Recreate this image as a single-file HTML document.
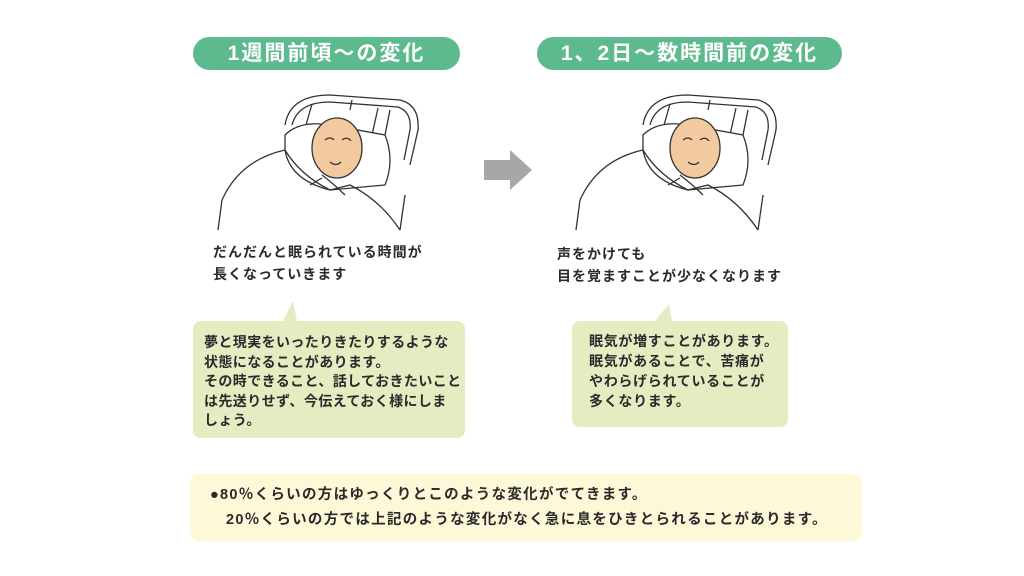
<!DOCTYPE html>
<html><head><meta charset="utf-8"><style>
body{margin:0;width:1024px;height:576px;background:#fff;position:relative;overflow:hidden;font-family:"Liberation Sans","Noto Sans CJK JP",sans-serif;font-weight:bold;color:#2a2a2a}
.pill{position:absolute;top:37px;height:33px;border-radius:17px;background:#5dba8e;color:#fff;font-size:21px;line-height:33px;text-align:center;letter-spacing:2px}
.t{position:absolute;font-size:14px;letter-spacing:1px;line-height:22px;white-space:nowrap}
.b{position:absolute;background:#e4ecc2;border-radius:8px;font-size:14px;letter-spacing:0.4px;line-height:19.5px;white-space:nowrap;box-sizing:border-box}
.bot{position:absolute;left:190px;top:474px;width:672px;height:67px;background:#fdf8d8;border-radius:8px;font-size:14.5px;letter-spacing:1.3px;line-height:25px;padding:9px 0 0 20px;box-sizing:border-box;white-space:nowrap}
</style></head><body>
<div class="pill" style="left:193px;width:267px">1週間前頃～の変化</div>
<div class="pill" style="left:537px;width:305px">1、2日～数時間前の変化</div>

<svg width="1024" height="576" style="position:absolute;left:0;top:0" fill="none" stroke="#333" stroke-width="1.3">
<g id="bed">
<path d="M285 125 Q290 95 330 95 L400 100 Q420 105 418 130 L410 165"/>
<path d="M292 125 Q298 102 330 102 L398 107 Q412 112 410 130 L404 160"/>
<path d="M312 104 L306 125 M378 108 L372 135 M390 110 L384 140 M352 100 L350 110"/>
<path d="M285 135 Q300 120 330 125 L385 135 Q395 160 385 185 L330 190 Q290 180 285 150 Z" fill="#fff"/>
<path d="M222 200 Q240 160 285 150 Q300 175 330 190 L350 185 Q380 200 400 230 M222 200 L218 230 M400 230 L405 195"/>
<path d="M322 175 Q335 185 345 195 M310 185 L322 178"/>
<ellipse cx="337" cy="148" rx="25" ry="30" fill="#f3c9a0"/>
<path d="M325 140 Q330 136 334 140 M342 140 Q347 136 351 141 M330 162 Q336 167 341 162"/>
</g>
<use href="#bed" transform="translate(358,0)"/>
<polygon points="484,160 510,160 510,150 532,170 510,190 510,180 484,180" fill="#a7a7a7" stroke="none"/>
<polygon points="283,321 293,301 297,321" fill="#e4ecc2" stroke="none"/>
<polygon points="655,321 669,304 672,321" fill="#e4ecc2" stroke="none"/>
</svg>

<div class="t" style="left:213px;top:241px">だんだんと眠られている時間が<br>長くなっていきます</div>
<div class="t" style="left:557px;top:243px">声をかけても<br>目を覚ますことが少なくなります</div>

<div class="b" style="left:193px;top:321px;width:272px;height:117px;padding:12px 0 0 11px">夢と現実をいったりきたりするような<br>状態になることがあります。<br>その時できること、話しておきたいこと<br>は先送りせず、今伝えておく様にしま<br>しょう。</div>
<div class="b" style="left:572px;top:321px;width:216px;height:106px;padding:10px 0 0 17px;line-height:20px;letter-spacing:0.7px">眠気が増すことがあります。<br>眠気があることで、苦痛が<br>やわらげられていることが<br>多くなります。</div>

<div class="bot">●80％くらいの方はゆっくりとこのような変化がでてきます。<br>&nbsp;&nbsp;&nbsp;20％くらいの方では上記のような変化がなく急に息をひきとられることがあります。</div>
</body></html>
